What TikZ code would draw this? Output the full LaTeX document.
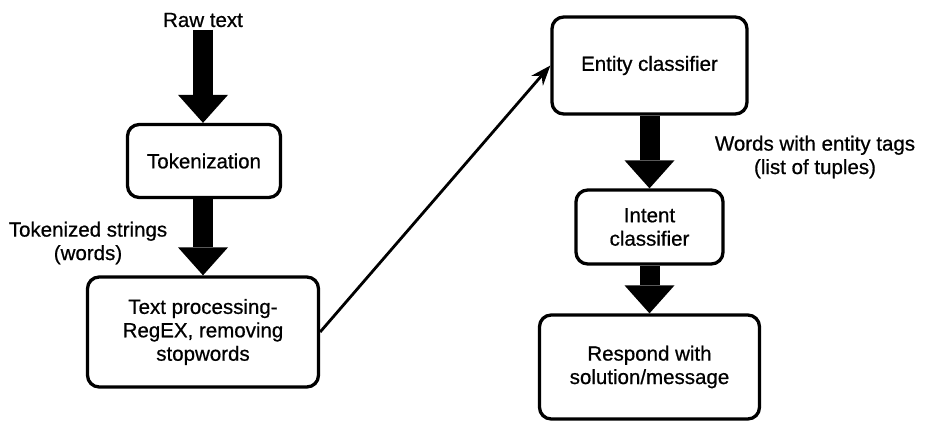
\documentclass[tikz,border=0pt]{standalone}
\usepackage{fontspec}
\setmainfont{Liberation Sans}[FakeBold=0.7]
\usetikzlibrary{arrows.meta,positioning}

\begin{document}
\begin{tikzpicture}[
  x=0.03cm,y=-0.03cm,
  every node/.style={font=\fontsize{17.5}{20}\selectfont},
  box/.style={rounded corners=10pt,draw=black,line width=2.8pt,align=center,inner sep=2pt},
  lbl/.style={align=center,inner sep=2pt},
  fat/.style={-{Triangle[length=0.84cm,width=1.5cm,line width=0pt]},line width=0.6cm},
  thin/.style={-{Stealth[length=0.6cm,width=0.45cm]},line width=2.4pt}
]
\useasboundingbox (0,0) rectangle (925,422);
% left column
\node[lbl] (raw) at (203,20) {Raw text};
\node[box,minimum width=4.59cm,minimum height=2.19cm] (tok) at (204,161) {Tokenization};
\node[lbl] (lbltok) at (88,243) {Tokenized strings\\(words)};
\node[box,minimum width=6.93cm,minimum height=3.3cm] (proc) at (203,332) {Text processing-\\RegEX, removing\\stopwords};
% right column
\node[box,minimum width=5.85cm,minimum height=2.91cm] (ent) at (649.5,65.5) {Entity classifier};
\node[lbl] (lblent) at (815,157) {Words with entity tags\\(list of tuples)};
\node[box,minimum width=4.41cm,minimum height=2.22cm] (intent) at (649.5,227) {Intent\\classifier};
\node[box,minimum width=6.6cm,minimum height=3.12cm] (resp) at (649.5,367) {Respond with\\solution/message};
% arrows
\draw[fat] (raw.south) -- (raw.south|-tok.north);
\draw[fat] (proc.north|-tok.south) -- (proc.north);
\draw[thin] (proc.east) -- (ent.west);
\draw[fat] (ent.south) -- (intent.north);
\draw[fat] (intent.south) -- (resp.north);
\end{tikzpicture}
\end{document}
